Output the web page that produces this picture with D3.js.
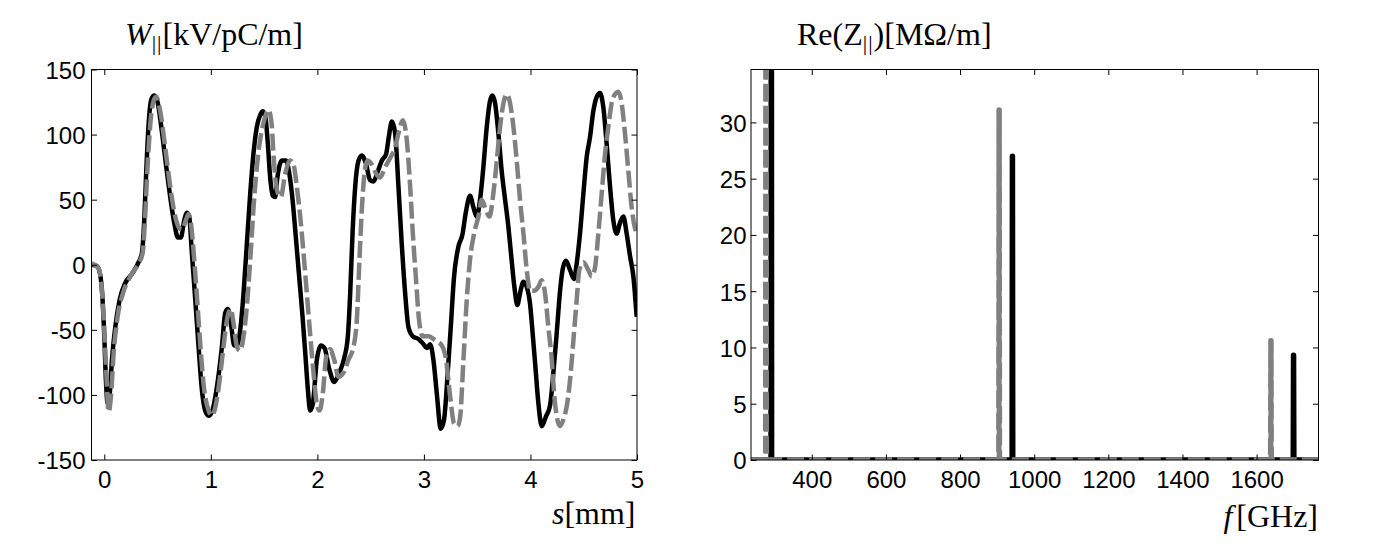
<!DOCTYPE html>
<html>
<head>
<meta charset="utf-8">
<script src="https://cdn.jsdelivr.net/npm/d3@7"></script>
<style>
	body { margin: 0; background: #fff; }
	svg { display: block; }
</style>
</head>
<body>
<script>
const width = 1388,
	height = 556

const GRAY = '#808080'
const DASH = '17,5'

// wake potential, s in mm, W in kV/pC/m
const sBlack = [-0.115, -0.07, -0.04, -0.02, 0.0, 0.016, 0.031, 0.05, 0.072, 0.103, 0.144, 0.197, 0.26, 0.322, 0.353, 0.375, 0.394, 0.416, 0.441, 0.469, 0.5, 0.541, 0.582, 0.619, 0.657, 0.691, 0.719, 0.75, 0.776, 0.797, 0.822, 0.854, 0.885, 0.916, 0.947, 0.979, 1.01, 1.057, 1.104, 1.135, 1.16, 1.188, 1.22, 1.245, 1.276, 1.307, 1.338, 1.37, 1.401, 1.432, 1.463, 1.488, 1.513, 1.535, 1.557, 1.582, 1.604, 1.62, 1.667, 1.704, 1.735, 1.767, 1.798, 1.829, 1.861, 1.889, 1.911, 1.932, 1.957, 1.995, 2.033, 2.067, 2.111, 2.158, 2.205, 2.251, 2.286, 2.308, 2.33, 2.355, 2.386, 2.417, 2.455, 2.495, 2.527, 2.564, 2.605, 2.645, 2.67, 2.699, 2.73, 2.761, 2.792, 2.824, 2.855, 2.896, 2.949, 2.996, 3.027, 3.058, 3.089, 3.121, 3.158, 3.189, 3.221, 3.252, 3.283, 3.324, 3.361, 3.393, 3.433, 3.465, 3.496, 3.527, 3.558, 3.59, 3.621, 3.643, 3.668, 3.699, 3.73, 3.762, 3.793, 3.824, 3.849, 3.877, 3.902, 3.934, 3.965, 3.996, 4.021, 4.046, 4.074, 4.106, 4.143, 4.184, 4.215, 4.246, 4.278, 4.306, 4.334, 4.371, 4.409, 4.434, 4.465, 4.497, 4.528, 4.559, 4.59, 4.622, 4.653, 4.684, 4.715, 4.747, 4.778, 4.809, 4.84, 4.872, 4.903, 4.934, 4.966, 4.997]
const wBlack = [0, -1, -7, -22, -55, -90, -106, -100, -73, -48, -27, -14, -7, 2, 9, 34, 72, 108, 127, 130, 125, 102, 75, 52, 32, 21, 21, 34, 40, 37, 9, -27, -63, -96, -112, -116, -113, -94, -63, -37, -34, -45, -62, -62, -50, -22, 16, 55, 86, 106, 115, 118, 113, 93, 67, 53, 52, 64, 80, 80, 71, 50, 21, -9, -40, -71, -96, -112, -107, -73, -62, -64, -80, -90, -83, -72, -55, -22, 24, 60, 80, 84, 78, 65, 64, 71, 80, 85, 98, 110, 101, 60, 16, -22, -48, -55, -57, -61, -64, -61, -73, -99, -126, -119, -86, -48, -9, 14, 23, 40, 53, 44, 37, 50, 75, 106, 126, 130, 124, 101, 72, 50, 29, 3, -17, -31, -22, -13, -17, -30, -53, -78, -106, -124, -117, -108, -83, -53, -20, -2, 3, -4, -11, 1, 24, 55, 83, 98, 118, 129, 132, 121, 93, 60, 34, 24, 32, 37, 24, 7, -9, -40]

const sGray = [-0.115, -0.053, -0.022, 0.0, 0.019, 0.041, 0.063, 0.088, 0.125, 0.175, 0.244, 0.322, 0.36, 0.385, 0.406, 0.432, 0.463, 0.488, 0.525, 0.572, 0.619, 0.666, 0.697, 0.729, 0.769, 0.791, 0.813, 0.844, 0.876, 0.907, 0.938, 0.979, 1.01, 1.041, 1.082, 1.119, 1.157, 1.188, 1.213, 1.245, 1.276, 1.307, 1.338, 1.37, 1.401, 1.432, 1.463, 1.501, 1.542, 1.563, 1.573, 1.588, 1.607, 1.629, 1.657, 1.698, 1.745, 1.776, 1.807, 1.839, 1.87, 1.901, 1.932, 1.964, 1.995, 2.02, 2.051, 2.083, 2.12, 2.158, 2.198, 2.245, 2.292, 2.339, 2.37, 2.395, 2.417, 2.442, 2.47, 2.511, 2.552, 2.589, 2.636, 2.683, 2.73, 2.761, 2.802, 2.839, 2.871, 2.896, 2.924, 2.955, 2.989, 3.043, 3.105, 3.168, 3.208, 3.246, 3.283, 3.315, 3.34, 3.371, 3.402, 3.433, 3.471, 3.512, 3.543, 3.574, 3.615, 3.652, 3.684, 3.715, 3.746, 3.777, 3.809, 3.84, 3.871, 3.902, 3.934, 3.965, 3.996, 4.034, 4.074, 4.106, 4.137, 4.168, 4.2, 4.224, 4.253, 4.278, 4.309, 4.34, 4.371, 4.403, 4.434, 4.459, 4.497, 4.543, 4.575, 4.606, 4.637, 4.669, 4.7, 4.731, 4.762, 4.794, 4.825, 4.856, 4.887, 4.919, 4.95, 4.981, 4.997]
const wGray = [1, -3, -20, -50, -83, -113, -101, -68, -40, -22, -9, 1, 9, 39, 75, 108, 126, 129, 118, 90, 60, 37, 29, 27, 35, 39, 32, 4, -32, -68, -96, -112, -116, -110, -89, -63, -40, -34, -45, -63, -66, -55, -32, 4, 44, 75, 96, 111, 119, 113, 106, 85, 65, 55, 52, 70, 80, 77, 60, 37, 9, -22, -53, -83, -107, -112, -99, -71, -65, -73, -86, -83, -73, -63, -43, 4, 42, 70, 80, 77, 70, 67, 75, 82, 90, 101, 111, 96, 60, 24, -9, -43, -55, -55, -58, -62, -73, -101, -122, -124, -117, -73, -27, 4, 24, 37, 50, 44, 37, 55, 80, 106, 124, 131, 124, 106, 80, 50, 24, -4, -20, -20, -17, -12, -22, -48, -73, -101, -119, -124, -119, -109, -89, -58, -27, -4, 2, -4, -9, -2, 24, 55, 85, 106, 124, 131, 133, 124, 101, 72, 44, 28, 24]

// impedance, f in GHz, Re(Z) in MOhm/m (first peaks run off the top)
const fBlack = [236, 290, 290.8, 291.6, 940.5, 941.3, 942.1, 1698.9, 1699.7, 1700.5, 1767]
const zBlack = [0, 0, 60, 0, 0, 27, 0, 0, 9.3, 0, 0]
const fGray = [236, 275.7, 276.5, 277.3, 904.6, 905.4, 906.2, 1637.9, 1638.7, 1639.5, 1767]
const zGray = [0, 0, 60, 0, 0, 31.1, 0, 0, 10.6, 0, 0]

const sTicks = [0, 1, 2, 3, 4, 5]
const wTicks = [-150, -100, -50, 0, 50, 100, 150]
const fTicks = [400, 600, 800, 1000, 1200, 1400, 1600]
const zTicks = [0, 5, 10, 15, 20, 25, 30]

const svg = d3.select("body")
	.append("svg")
	.attr("width", width)
	.attr("height", height)

svg.append("rect").attr("width", width).attr("height", height).attr("fill", "#fff")

const zip = (xs, ys) => xs.map((v, i) => [v, ys[i]])
const plain = d => String(d)

function panel(opts) {
	const { x, y, xTicks, yTicks, series, id, lineWidth, labelPad } = opts
	const [x0, x1] = x.range()
	const [y1, y0] = y.range()
	const g = svg.append("g")

	g.append("clipPath").attr("id", id)
		.append("rect")
		.attr("x", x0).attr("y", y0)
		.attr("width", x1 - x0).attr("height", y1 - y0)

	const line = d3.line()
		.x(d => x(d[0]))
		.y(d => y(d[1]))
		.curve(opts.curve || d3.curveLinear)

	const lines = g.append("g").attr("clip-path", `url(#${id})`)
	series.forEach(s => {
		lines.append("path")
			.attr("d", line(s.data))
			.attr("fill", "none")
			.attr("stroke", s.color)
			.attr("stroke-width", lineWidth)
			.attr("stroke-linejoin", "round")
			.attr("stroke-dasharray", s.dash)
	})

	const styleAxis = a => {
		a.select(".domain").remove()
		a.attr("font-size", 24).attr("font-family", "'Liberation Sans', Arial, sans-serif")
		a.selectAll("text").attr("fill", "#000")
		a.selectAll("line").attr("stroke", "#000")
	}

	g.append("g").attr("transform", `translate(${x0},0)`)
		.call(d3.axisLeft(y).tickValues(yTicks).tickFormat(plain).tickSize(-5.5).tickPadding(labelPad))
		.call(styleAxis)
		.selectAll("text").attr("dy", "0.37em")
	g.append("g").attr("transform", `translate(${x1},0)`)
		.call(d3.axisRight(y).tickValues(yTicks).tickSize(-5.5).tickFormat(""))
		.call(styleAxis)
	g.append("g").attr("transform", `translate(0,${y1})`)
		.call(d3.axisBottom(x).tickValues(xTicks).tickFormat(plain).tickSize(-5.5).tickPadding(11))
		.call(styleAxis)
	g.append("g").attr("transform", `translate(0,${y0})`)
		.call(d3.axisTop(x).tickValues(xTicks).tickSize(-5.5).tickFormat(""))
		.call(styleAxis)

	g.append("rect")
		.attr("x", x0).attr("y", y0)
		.attr("width", x1 - x0).attr("height", y1 - y0)
		.attr("fill", "none")
		.attr("stroke", "#000")
		.attr("stroke-width", 1)
}

const xWake = d3.scaleLinear().domain([-0.12, 5]).range([91.5, 637])
const yWake = d3.scaleLinear().domain([-150, 150]).range([460, 69.5])

panel({
	id: "clipWake",
	x: xWake, y: yWake,
	xTicks: sTicks, yTicks: wTicks,
	lineWidth: 4.5, labelPad: 6,
	curve: d3.curveMonotoneX,
	series: [
		{ data: zip(sBlack, wBlack), color: "#000", dash: null },
		{ data: zip(sGray, wGray), color: GRAY, dash: DASH }
	]
})

const xImp = d3.scaleLinear().domain([236, 1767]).range([751, 1318.5])
const yImp = d3.scaleLinear().domain([0, 34.7]).range([460, 69.5])

panel({
	id: "clipImp",
	x: xImp, y: yImp,
	xTicks: fTicks, yTicks: zTicks,
	lineWidth: 5.5, labelPad: 4.5,
	series: [
		{ data: zip(fBlack, zBlack), color: "#000", dash: null },
		{ data: zip(fGray, zGray), color: GRAY, dash: DASH }
	]
})

// titles and axis labels (serif, like the original)
const serif = "'Liberation Serif', 'Times New Roman', serif"

const t1 = svg.append("text")
	.attr("x", 125).attr("y", 44.5)
	.attr("font-family", serif).attr("font-size", 32)
t1.append("tspan").attr("font-style", "italic").text("W")
t1.append("tspan").attr("font-size", 22).attr("dy", 5).attr("letter-spacing", 1).text("||")
t1.append("tspan").attr("dy", -5).text("[kV/pC/m]")

const t2 = svg.append("text")
	.attr("x", 797).attr("y", 44.5)
	.attr("font-family", serif).attr("font-size", 32)
t2.append("tspan").text("Re(Z")
t2.append("tspan").attr("font-size", 22).attr("dy", 5).attr("letter-spacing", 1).text("||")
t2.append("tspan").attr("dy", -5).text(")[MΩ/m]")

const l1 = svg.append("text")
	.attr("x", 635.5).attr("y", 523.5)
	.attr("text-anchor", "end")
	.attr("font-family", serif).attr("font-size", 32)
l1.append("tspan").attr("font-style", "italic").text("s")
l1.append("tspan").text("[mm]")

const l2 = svg.append("text")
	.attr("x", 1318).attr("y", 526.5)
	.attr("text-anchor", "end")
	.attr("font-family", serif).attr("font-size", 32)
l2.append("tspan").attr("font-style", "italic").attr("dx", 0).text("f")
l2.append("tspan").attr("dx", 4).text("[GHz]")
</script>
</body>
</html>
